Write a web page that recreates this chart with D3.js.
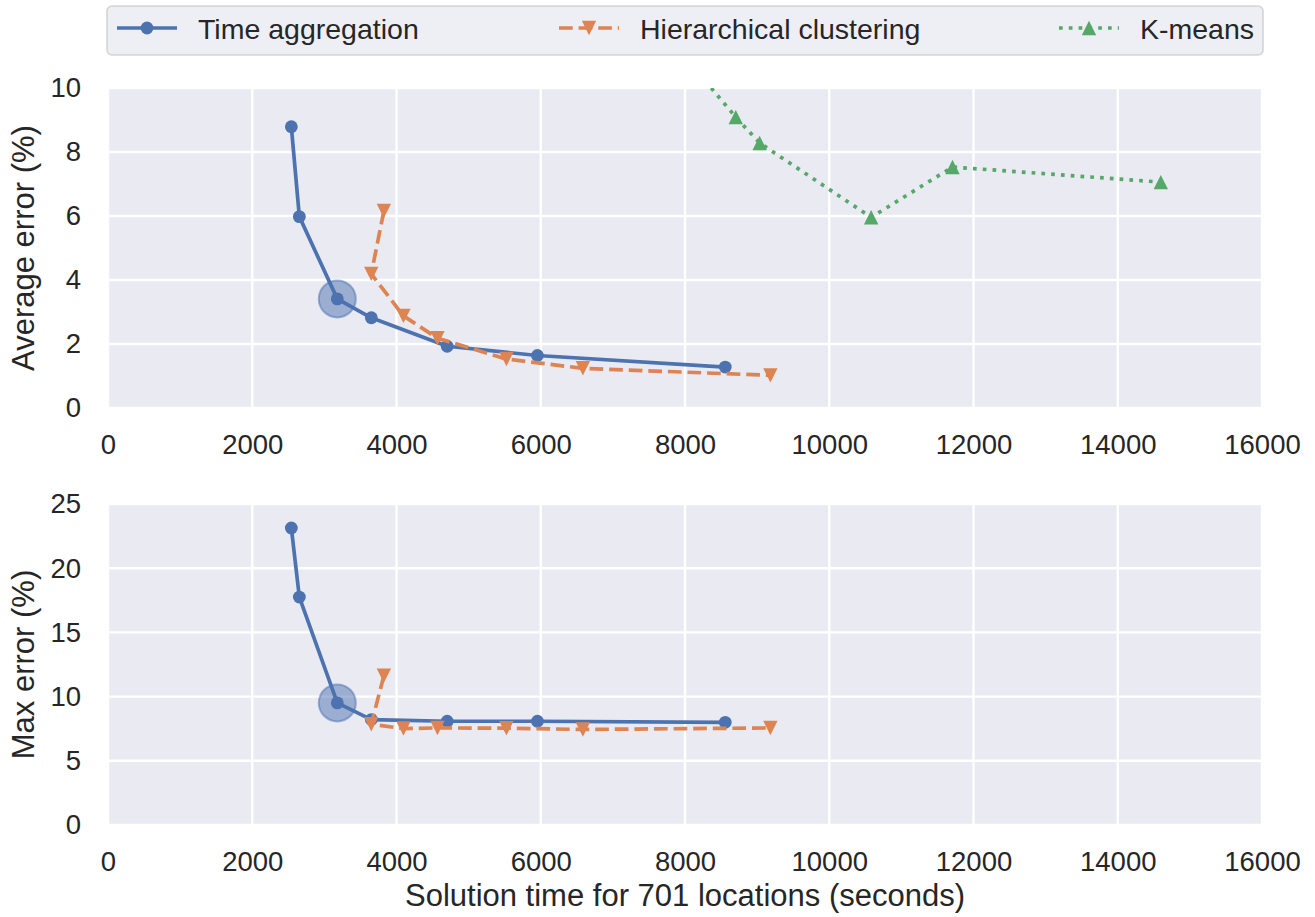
<!DOCTYPE html>
<html>
<head>
<meta charset="utf-8">
<script src="https://cdn.jsdelivr.net/npm/d3@7"></script>
<style>
  body { margin: 0; background: #ffffff; }
  svg { display: block; }
  text { font-family: "Liberation Sans", Arial, "Helvetica Neue", sans-serif; fill: #262626; }
</style>
</head>
<body>
<svg id="chart" width="1315" height="917"></svg>
<script>
// ---- data ----
const seriesNames = ["Time aggregation", "Hierarchical clustering", "K-means"];

// Time aggregation
const timeAggSeconds = [2542, 2653, 3179, 3651, 4703, 5954, 8558];
const timeAggAvgError = [8.79, 5.98, 3.41, 2.82, 1.93, 1.64, 1.28];
const timeAggMaxError = [23.13, 17.75, 9.51, 8.21, 8.08, 8.08, 8.0];

// Hierarchical clustering
const hierSeconds = [3825, 3650, 4096, 4568, 5524, 6584, 9184];
const hierAvgError = [6.16, 4.19, 2.88, 2.18, 1.53, 1.24, 1.02];
const hierMaxError = [11.63, 7.85, 7.51, 7.56, 7.54, 7.44, 7.56];

// K-means (average error only)
const kmeansSeconds = [8100, 8704, 9035, 10581, 11709, 14597];
const kmeansAvgError = [10.7, 9.09, 8.28, 5.96, 7.53, 7.06];

// chosen configuration, highlighted on the time-aggregation curve
const highlightIndex = 2;

const xTicks = [0, 2000, 4000, 6000, 8000, 10000, 12000, 14000, 16000];
const avgTicks = [0, 2, 4, 6, 8, 10];
const maxTicks = [0, 5, 10, 15, 20, 25];

// ---- styling ----
const COLORS = { blue: "#4c72b0", orange: "#dd8452", green: "#55a868" };
const LW = 3.7;
const BG = "#eaeaf2";

const svg = d3.select("#chart");
const plotLeft = 108, plotRight = 1262;
const x = d3.scaleLinear().domain([0, 16000]).range([plotLeft, plotRight]);

const zip = (xs, ys) => xs.map((v, i) => [v, ys[i]]);

function trianglePath(h, down) {
  return down
    ? `M${-h},${-h}L${h},${-h}L0,${h}Z`
    : `M0,${-h}L${h},${h}L${-h},${h}Z`;
}

const styles = {
  time:   { color: COLORS.blue,   dash: null, marker: "circle" },
  hier:   { color: COLORS.orange, dash: `${(3.7*LW).toFixed(1)},${(1.6*LW).toFixed(1)}`, marker: "down" },
  kmeans: { color: COLORS.green,  dash: `${(1*LW).toFixed(1)},${(1.65*LW).toFixed(1)}`, marker: "up" }
};

function drawMarker(g, style, cx, cy) {
  if (style.marker === "circle") {
    g.append("circle").attr("cx", cx).attr("cy", cy).attr("r", 6.4)
      .attr("fill", style.color);
  } else {
    g.append("path").attr("d", trianglePath(7.2, style.marker === "down"))
      .attr("transform", `translate(${cx},${cy})`)
      .attr("fill", style.color);
  }
}

function drawPanel(cfg) {
  const y = d3.scaleLinear().domain(cfg.domain).range([cfg.bottom, cfg.top]);
  const g = svg.append("g");

  g.append("rect").attr("x", plotLeft).attr("y", cfg.top)
    .attr("width", plotRight - plotLeft).attr("height", cfg.bottom - cfg.top)
    .attr("fill", BG);

  // grid
  g.append("g").selectAll("line").data(xTicks).join("line")
    .attr("x1", d => x(d)).attr("x2", d => x(d))
    .attr("y1", cfg.top).attr("y2", cfg.bottom)
    .attr("stroke", "#ffffff").attr("stroke-width", 2.4);
  g.append("g").selectAll("line").data(cfg.ticks).join("line")
    .attr("x1", plotLeft).attr("x2", plotRight)
    .attr("y1", d => y(d)).attr("y2", d => y(d))
    .attr("stroke", "#ffffff").attr("stroke-width", 2.4);

  // axes
  const xa = g.append("g").attr("transform", `translate(0,${cfg.bottom})`)
    .call(d3.axisBottom(x).tickValues(xTicks).tickFormat(d3.format("d")).tickSize(0).tickPadding(26));
  const ya = g.append("g").attr("transform", `translate(${plotLeft},0)`)
    .call(d3.axisLeft(y).tickValues(cfg.ticks).tickFormat(d3.format("d")).tickSize(0).tickPadding(27));
  [xa, ya].forEach(a => {
    a.select(".domain").remove();
    a.selectAll("text").attr("font-size", 27.5).attr("fill", "#262626")
      .style("font-family", '"Liberation Sans", Arial, sans-serif');
  });

  // y label
  g.append("text")
    .attr("transform", `translate(34,${(cfg.top + cfg.bottom) / 2}) rotate(-90)`)
    .attr("text-anchor", "middle").attr("font-size", 31)
    .text(cfg.label);

  // clip region
  const clipId = "clip-" + cfg.id;
  svg.append("clipPath").attr("id", clipId).append("rect")
    .attr("x", plotLeft).attr("y", cfg.top)
    .attr("width", plotRight - plotLeft).attr("height", cfg.bottom - cfg.top);
  const plot = g.append("g").attr("clip-path", `url(#${clipId})`);

  const line = d3.line().x(d => x(d[0])).y(d => y(d[1]));

  // highlighted configuration
  const hp = cfg.series[0].points[highlightIndex];
  plot.append("circle").attr("cx", x(hp[0])).attr("cy", y(hp[1])).attr("r", 18.5)
    .attr("fill", COLORS.blue).attr("fill-opacity", 0.5)
    .attr("stroke", COLORS.blue).attr("stroke-opacity", 0.5).attr("stroke-width", 2);

  cfg.series.forEach(s => {
    const st = styles[s.key];
    plot.append("path").datum(s.points).attr("d", line)
      .attr("fill", "none").attr("stroke", st.color).attr("stroke-width", LW)
      .attr("stroke-linejoin", "round")
      .attr("stroke-linecap", st.dash ? "butt" : "round")
      .attr("stroke-dasharray", st.dash);
    const mg = plot.append("g");
    s.points.forEach(p => drawMarker(mg, st, x(p[0]), y(p[1])));
  });
  return y;
}

drawPanel({
  id: "avg", top: 88, bottom: 408, domain: [0, 10], ticks: avgTicks,
  label: "Average error (%)",
  series: [
    { key: "time", points: zip(timeAggSeconds, timeAggAvgError) },
    { key: "hier", points: zip(hierSeconds, hierAvgError) },
    { key: "kmeans", points: zip(kmeansSeconds, kmeansAvgError) }
  ]
});

drawPanel({
  id: "max", top: 504, bottom: 825, domain: [0, 25], ticks: maxTicks,
  label: "Max error (%)",
  series: [
    { key: "time", points: zip(timeAggSeconds, timeAggMaxError) },
    { key: "hier", points: zip(hierSeconds, hierMaxError) }
  ]
});

// x label
svg.append("text").attr("x", (plotLeft + plotRight) / 2).attr("y", 906)
  .attr("text-anchor", "middle").attr("font-size", 31)
  .text("Solution time for 701 locations (seconds)");

// ---- legend ----
const legend = svg.append("g");
legend.append("rect").attr("x", 107).attr("y", 6).attr("width", 1156).attr("height", 49)
  .attr("rx", 5).attr("fill", BG).attr("fill-opacity", 0.8)
  .attr("stroke", "#cccccc").attr("stroke-opacity", 0.8).attr("stroke-width", 1.6);

const legendKeys = ["time", "hier", "kmeans"];
const legendHandleX = [117, 559, 1059];
legendKeys.forEach((k, i) => {
  const st = styles[k];
  const hx = legendHandleX[i], hy = 28;
  legend.append("line").attr("x1", hx).attr("x2", hx + 60).attr("y1", hy).attr("y2", hy)
    .attr("stroke", st.color).attr("stroke-width", LW)
    .attr("stroke-dasharray", st.dash);
  drawMarker(legend, st, hx + 30, hy);
  legend.append("text").attr("x", hx + 81).attr("y", 39).attr("font-size", 28.5)
    .text(seriesNames[i]);
});
</script>
</body>
</html>
